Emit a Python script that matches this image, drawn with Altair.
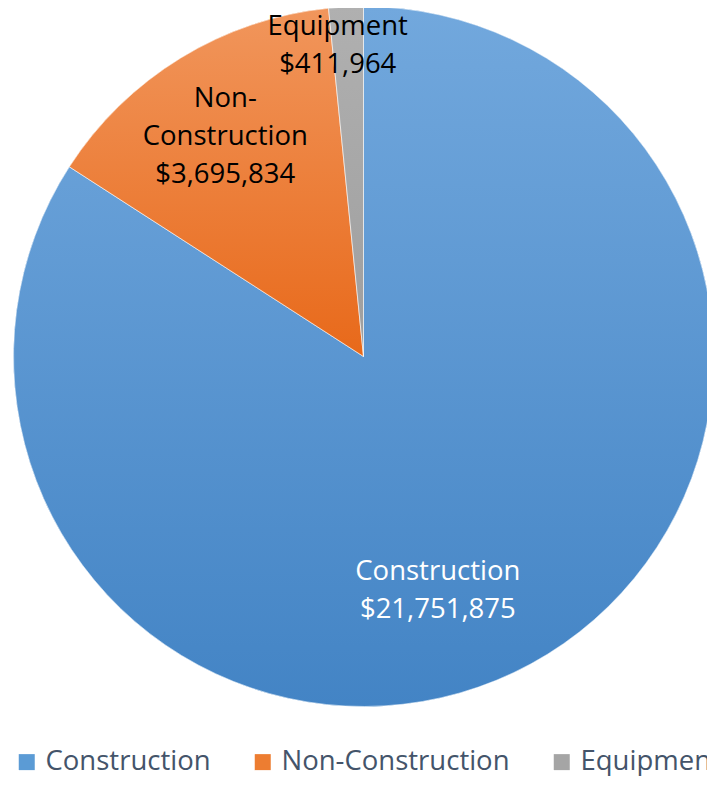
import altair as alt
import pandas as pd

# ---- data ----
categories = ["Construction", "Non-Construction", "Equipment"]
values = [21751875, 3695834, 411964]
labels = ["Construction\n$21,751,875", "Non-\nConstruction\n$3,695,834", "Equipment\n$411,964"]
order_idx = [0, 1, 2]

# ---- styling ----
solid_colors = ["#5B9BD5", "#ED7D31", "#A5A5A5"]
grad_top = ["#72A8DD", "#F1965C", "#B0B0B0"]
grad_bottom = ["#4384C5", "#E8691A", "#9E9E9E"]
FONT = "Open Sans"
FS = 27.5
CX, CY, R = 355.5, 348.5, 350

df = pd.DataFrame({"category": categories, "value": values, "label": labels, "idx": order_idx})

base = alt.Chart(df).encode(
    theta=alt.Theta("value:Q", stack=True),
    order=alt.Order("idx:Q"),
    x=alt.value(CX),
    y=alt.value(CY),
)

pie = base.mark_arc(radius=R).encode(
    color=alt.Color(
        "category:N",
        scale=alt.Scale(domain=categories, range=solid_colors),
        legend=alt.Legend(
            title=None,
            orient="none",
            legendX=5,
            legendY=740,
            direction="horizontal",
            symbolType="square",
            symbolSize=256,
            symbolStrokeWidth=0,
            symbolOpacity=1,
            labelFont=FONT,
            labelFontSize=FS,
            labelColor="#44546A",
            labelOffset=5,
            labelLimit=500,
            columnPadding=38,
            padding=0,
        ),
    )
)

layers = [pie]
for cat, c0, c1 in zip(categories, grad_top, grad_bottom):
    g = alt.LinearGradient(
        gradient="linear",
        stops=[alt.GradientStop(color=c0, offset=0), alt.GradientStop(color=c1, offset=1)],
        x1=0, x2=0, y1=0, y2=1,
    )
    layers.append(
        base.mark_arc(radius=R, fill=g, stroke="#ffffff", strokeWidth=0.6).encode(
            opacity=alt.condition(alt.datum.category == cat, alt.value(1), alt.value(0))
        )
    )

# (category, radial distance, colour, dx, dy)
text_specs = [
    ("Construction", 243, "#ffffff", -42, 2),
    ("Non-Construction", 261, "#000000", -2, -35),
    ("Equipment", 315, "#000000", -10, -15),
]
for cat, rad, col, dx, dy in text_specs:
    layers.append(
        base.transform_calculate(
            t=f"datum.category == '{cat}' ? datum.label : ''"
        ).mark_text(
            radius=rad, font=FONT, fontSize=FS, lineBreak="\n", lineHeight=38,
            align="center", baseline="middle", color=col, dx=dx, dy=dy,
        ).encode(text="t:N")
    )

chart = alt.layer(*layers).properties(
    width=699,
    height=768,
    autosize=alt.AutoSizeParams(type="none"),
    padding=0,
    background="#ffffff",
).configure_view(stroke=None)

chart.save("out.html", embed_options={"renderer": "svg", "actions": False})
